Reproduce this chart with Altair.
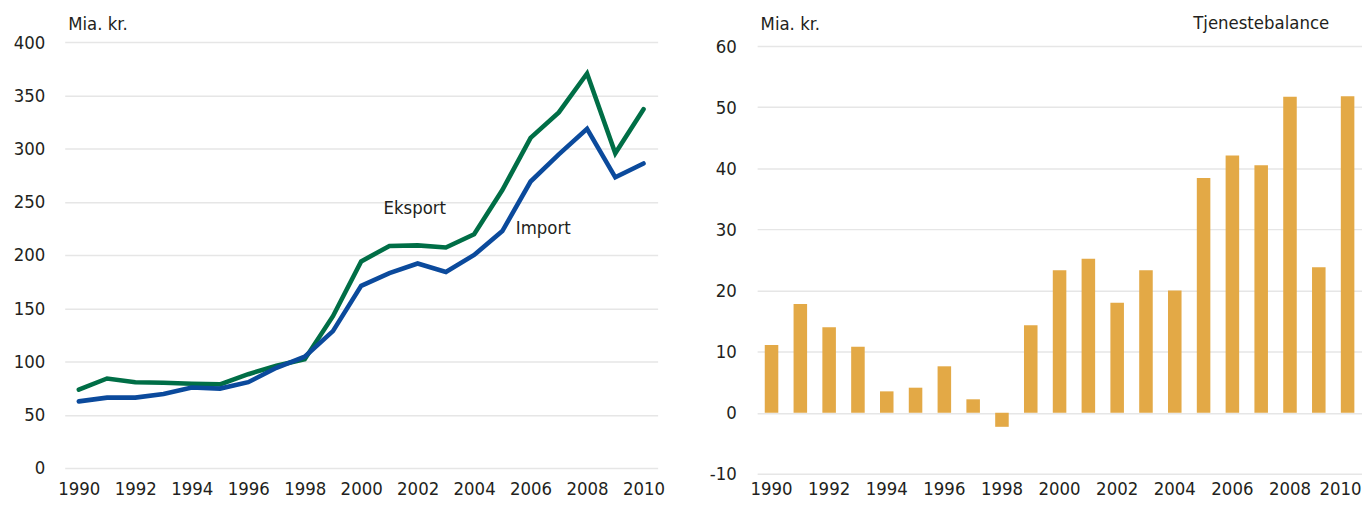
import altair as alt
import pandas as pd

years = list(range(1990, 2011))
eksport = [73.5, 84, 80.5, 80, 79, 78.5, 88, 96, 102, 142.5, 194, 208.5, 209, 207, 219.5, 261, 310, 334, 370.5, 295.5, 337]
importv = [62.5, 66, 66, 69.5, 75.5, 74.5, 80.5, 94, 104.5, 128.5, 171, 183, 192, 184, 200, 222.5, 269, 294.5, 318.5, 273, 286]
tjeneste = [11.1, 17.8, 14.0, 10.8, 3.5, 4.1, 7.6, 2.2, -2.3, 14.3, 23.3, 25.2, 18.0, 23.3, 20.0, 38.4, 42.1, 40.5, 51.7, 23.8, 51.8]

series_names = ["Eksport", "Import"]
series_colors = ["#006E46", "#0B4A9C"]
bar_color = "#E3A946"

left_labels = ["Eksport", "Import"]
left_label_x = [2001.9, 2006.45]
left_label_y = [244.5, 225]

right_label = ["Tjenestebalance"]
right_label_x = [2007]
right_label_y = [63.7]

FONT = "Liberation Sans Narrow, DejaVu Sans Condensed, Roboto, sans-serif"
TXT = "#231F20"
FS = 18.5

lines_df = pd.DataFrame({
    "year": years * 2,
    "value": eksport + importv,
    "serie": ["Eksport"] * len(years) + ["Import"] * len(years),
})
bars_df = pd.DataFrame({"year": years, "value": tjeneste})
lab_df = pd.DataFrame({"label": left_labels, "x": left_label_x, "y": left_label_y})
rlab_df = pd.DataFrame({"label": right_label, "x": right_label_x, "y": right_label_y})

x_left = alt.X(
    "year:Q",
    scale=alt.Scale(domain=[1989.5, 2010.5], nice=False, zero=False),
    axis=alt.Axis(values=list(range(1990, 2011, 2)), format="d", title=None,
                  grid=False, labelPadding=12, labelFlush=False),
)
y_left = alt.Y(
    "value:Q",
    scale=alt.Scale(domain=[0, 400], nice=False),
    axis=alt.Axis(values=list(range(0, 401, 50)), title="Mia. kr.", titleAngle=0,
                  titleX=3, titleY=-19, titleAlign="left", titleBaseline="middle",
                  labelPadding=20, minExtent=57, maxExtent=57),
)

lines = alt.Chart(lines_df).mark_line(strokeWidth=4.6, strokeCap="round", clip=False).encode(
    x=x_left,
    y=y_left,
    color=alt.Color("serie:N", scale=alt.Scale(domain=series_names, range=series_colors), legend=None),
)
labels = alt.Chart(lab_df).mark_text(font=FONT, fontSize=FS, color=TXT, align="center", baseline="middle").encode(
    x=alt.X("x:Q"), y=alt.Y("y:Q"), text="label:N"
)
left = alt.layer(lines, labels).properties(width=596, height=428)

x_right = alt.X(
    "year:O",
    scale=alt.Scale(domain=years, paddingInner=0.53, paddingOuter=0.265),
    axis=alt.Axis(values=list(range(1990, 2011, 2)), title=None, labelAngle=0,
                  grid=False, labelPadding=6,
                  labelAlign={"condition": {"test": "datum.value == 2010", "value": "right"}, "value": "center"},
                  labelOffset={"condition": {"test": "datum.value == 2010", "value": 14}, "value": 0}),
)
y_right = alt.Y(
    "value:Q",
    scale=alt.Scale(domain=[-10, 60.65], nice=False),
    axis=alt.Axis(values=list(range(-10, 61, 10)), title="Mia. kr.", titleAngle=0,
                  titleX=3, titleY=-19, titleAlign="left", titleBaseline="middle",
                  labelPadding=21, minExtent=57, maxExtent=57,
                  labelExpr="replace(datum.label, '\u2212', '-')"),
)
bars = alt.Chart(bars_df).mark_bar(color=bar_color).encode(x=x_right, y=y_right)
rlabels = alt.Chart(rlab_df).mark_text(font=FONT, fontSize=FS, color=TXT, align="center", baseline="middle").encode(
    x=alt.X("x:O"), y=alt.Y("y:Q"), text="label:N"
)
right = alt.layer(bars, rlabels).properties(width=608, height=434)

chart = alt.hconcat(left, right, spacing=36).properties(
    padding={"left": 0, "right": 0, "top": 5, "bottom": 0},
    background="white",
).configure_view(stroke=None).configure_axis(
    domain=False, ticks=False, gridColor="#E6E6E6", gridWidth=1.5,
    labelFont=FONT, labelFontSize=FS, labelColor=TXT,
    titleFont=FONT, titleFontSize=FS, titleColor=TXT, titleFontWeight="normal",
)

chart.save("out.html", embed_options={"renderer": "svg", "actions": False})
